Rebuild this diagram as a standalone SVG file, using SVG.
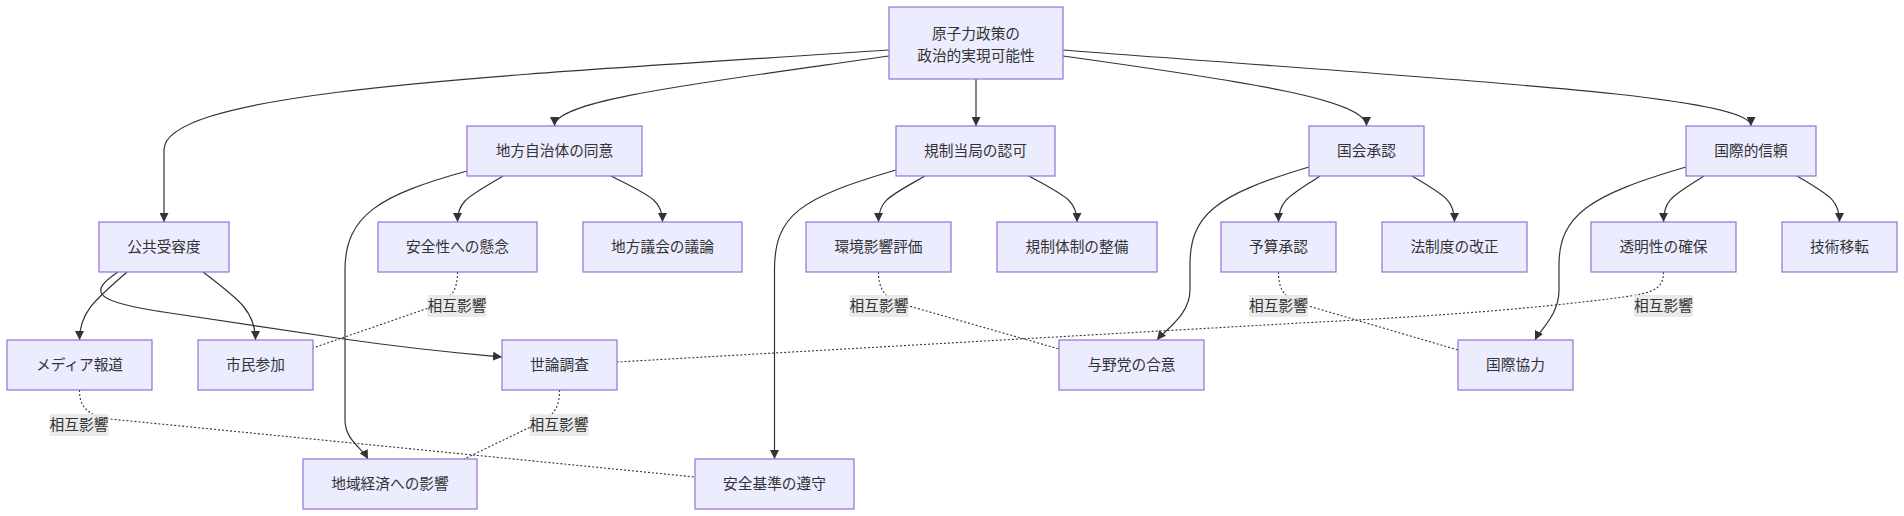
<svg xmlns="http://www.w3.org/2000/svg" width="1904" height="516" viewBox="0 0 1904 516">
<style>
.node rect{fill:#ECECFF;stroke:#9370DB;stroke-width:1.2}
text{font-family:"Noto Sans CJK JP","Noto Sans",sans-serif;font-size:14.7px;fill:#333;text-anchor:middle}
.edge{fill:none;stroke:#333;stroke-width:1.2}
.dot{fill:none;stroke:#333;stroke-width:1.1;stroke-dasharray:2 2}
.lbl rect{fill:#e8e8e8;opacity:0.9}
</style>
<defs>
<marker id="arr" viewBox="0 0 10 10" refX="10" refY="5" markerWidth="9" markerHeight="9" markerUnits="userSpaceOnUse" orient="auto">
<path d="M0,0 L10,5 L0,10 z" fill="#333"/>
</marker>
</defs>
<rect width="1904" height="516" fill="#fff"/>
<g id="connectors">
<path class="edge" marker-end="url(#arr)" d="M889,50 C500,76 164,90 164,150 L164,222"/>
<path class="edge" marker-end="url(#arr)" d="M889,56 C700,83 554.5,100 554.5,126"/>
<path class="edge" marker-end="url(#arr)" d="M976,79 L976,126"/>
<path class="edge" marker-end="url(#arr)" d="M1063,56 C1250,82 1366.5,100 1366.5,126"/>
<path class="edge" marker-end="url(#arr)" d="M1063,50 C1450,80 1751,95 1751,126"/>
<path class="edge" marker-end="url(#arr)" d="M503,176 C470,196 457.5,200 457.5,222"/>
<path class="edge" marker-end="url(#arr)" d="M611,176 C650,196 662.5,200 662.5,222"/>
<path class="edge" marker-end="url(#arr)" d="M467,171 C380,195 345,215 345,270 L345,420 C345,440 362,448 368,459"/>
<path class="edge" marker-end="url(#arr)" d="M925,176 C890,196 878.5,200 878.5,222"/>
<path class="edge" marker-end="url(#arr)" d="M1029,176 C1065,196 1077,200 1077,222"/>
<path class="edge" marker-end="url(#arr)" d="M896,170 C800,198 774.5,215 774.5,270 L774.5,459"/>
<path class="edge" marker-end="url(#arr)" d="M1320,176 C1290,196 1278.5,200 1278.5,222"/>
<path class="edge" marker-end="url(#arr)" d="M1412,176 C1445,196 1454.5,200 1454.5,222"/>
<path class="edge" marker-end="url(#arr)" d="M1309,167 C1215,195 1190,215 1190,265 L1190,290 C1190,315 1165,330 1157,340"/>
<path class="edge" marker-end="url(#arr)" d="M1704,176 C1672,196 1663.5,200 1663.5,222"/>
<path class="edge" marker-end="url(#arr)" d="M1797,176 C1830,196 1839.5,200 1839.5,222"/>
<path class="edge" marker-end="url(#arr)" d="M1686,167 C1590,195 1559,215 1559,265 L1559,290 C1559,315 1540,330 1535,340"/>
<path class="edge" marker-end="url(#arr)" d="M127,272 C95,300 79.5,312 79.5,340"/>
<path class="edge" marker-end="url(#arr)" d="M203,272 C240,300 255.5,312 255.5,340"/>
<path class="edge" marker-end="url(#arr)" d="M118,272 C88,292 92,302 170,313 L344,339 C420,350 470,354 502,357"/>
<path class="dot" d="M457.5,272 C457.5,290 452,296 440,304 L313,348"/>
<path class="dot" d="M79.5,390 C79.5,405 85,411 100,418 L695,477"/>
<path class="dot" d="M559.5,390 C559.5,406 555,413 545,420 L464,459"/>
<path class="dot" d="M878.5,272 C878.5,288 884,295 895,302 L1059,349"/>
<path class="dot" d="M1278.5,272 C1278.5,288 1283,295 1295,302 L1458,350"/>
<path class="dot" d="M1663.5,272 C1663.5,292 1650,294 1600,300 C1500,312 1400,318 1300,323 L617,362"/>
<g class="lbl"><rect x="427.5" y="295" width="59" height="22"/><text x="457" y="311">相互影響</text></g>
<g class="lbl"><rect x="49.5" y="414" width="59" height="22"/><text x="79" y="430">相互影響</text></g>
<g class="lbl"><rect x="529.5" y="414" width="59" height="22"/><text x="559" y="430">相互影響</text></g>
<g class="lbl"><rect x="849.5" y="295" width="59" height="22"/><text x="879" y="311">相互影響</text></g>
<g class="lbl"><rect x="1249" y="295" width="59" height="22"/><text x="1278.5" y="311">相互影響</text></g>
<g class="lbl"><rect x="1634" y="295" width="59" height="22"/><text x="1663.5" y="311">相互影響</text></g>
</g>
<g id="root" class="node"><rect x="889" y="7" width="174" height="72"/><text x="976" y="38.5">原子力政策の</text><text x="976" y="60.5">政治的実現可能性</text></g>
<g id="local" class="node"><rect x="467" y="126" width="175" height="50"/><text x="554.5" y="156">地方自治体の同意</text></g>
<g id="regulator" class="node"><rect x="896" y="126" width="159" height="50"/><text x="975.5" y="156">規制当局の認可</text></g>
<g id="diet" class="node"><rect x="1309" y="126" width="115" height="50"/><text x="1366.5" y="156">国会承認</text></g>
<g id="intl" class="node"><rect x="1686" y="126" width="130" height="50"/><text x="1751" y="156">国際的信頼</text></g>
<g id="public" class="node"><rect x="99" y="222" width="130" height="50"/><text x="164" y="252">公共受容度</text></g>
<g id="safety" class="node"><rect x="378" y="222" width="159" height="50"/><text x="457.5" y="252">安全性への懸念</text></g>
<g id="assembly" class="node"><rect x="583" y="222" width="159" height="50"/><text x="662.5" y="252">地方議会の議論</text></g>
<g id="eia" class="node"><rect x="806" y="222" width="145" height="50"/><text x="878.5" y="252">環境影響評価</text></g>
<g id="regime" class="node"><rect x="997" y="222" width="160" height="50"/><text x="1077" y="252">規制体制の整備</text></g>
<g id="budget" class="node"><rect x="1221" y="222" width="115" height="50"/><text x="1278.5" y="252">予算承認</text></g>
<g id="law" class="node"><rect x="1382" y="222" width="145" height="50"/><text x="1454.5" y="252">法制度の改正</text></g>
<g id="transparency" class="node"><rect x="1591" y="222" width="145" height="50"/><text x="1663.5" y="252">透明性の確保</text></g>
<g id="tech" class="node"><rect x="1782" y="222" width="115" height="50"/><text x="1839.5" y="252">技術移転</text></g>
<g id="media" class="node"><rect x="7" y="340" width="145" height="50"/><text x="79.5" y="370">メディア報道</text></g>
<g id="citizen" class="node"><rect x="198" y="340" width="115" height="50"/><text x="255.5" y="370">市民参加</text></g>
<g id="poll" class="node"><rect x="502" y="340" width="115" height="50"/><text x="559.5" y="370">世論調査</text></g>
<g id="consensus" class="node"><rect x="1059" y="340" width="145" height="50"/><text x="1131.5" y="370">与野党の合意</text></g>
<g id="coop" class="node"><rect x="1458" y="340" width="115" height="50"/><text x="1515.5" y="370">国際協力</text></g>
<g id="economy" class="node"><rect x="303" y="459" width="174" height="50"/><text x="390" y="489">地域経済への影響</text></g>
<g id="standards" class="node"><rect x="695" y="459" width="159" height="50"/><text x="774.5" y="489">安全基準の遵守</text></g>
</svg>
